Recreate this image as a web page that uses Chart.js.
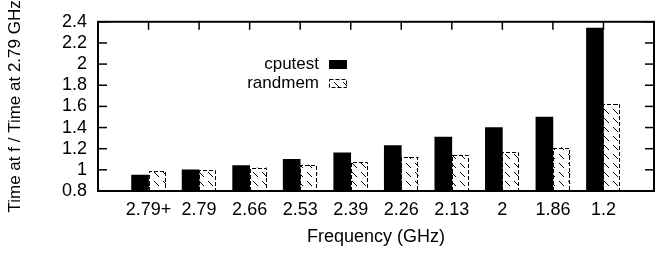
<!DOCTYPE html>
<html>
<head>
<meta charset="utf-8">
<script src="https://cdn.jsdelivr.net/npm/chart.js@4/dist/chart.umd.min.js"></script>
<style>
  body { margin: 0; background: #fff; }
  canvas { display: block; }
</style>
</head>
<body>
<canvas id="freqChart" width="667" height="253"></canvas>
<script>
const categories = ['2.79+', '2.79', '2.66', '2.53', '2.39', '2.26', '2.13', '2', '1.86', '1.2'];
const cputest = [0.95, 1.00, 1.04, 1.10, 1.16, 1.23, 1.31, 1.40, 1.50, 2.34];
const randmem = [0.99, 1.00, 1.02, 1.045, 1.07, 1.12, 1.14, 1.17, 1.21, 1.62];
const yTicks = [0.8, 1.0, 1.2, 1.4, 1.6, 1.8, 2.0, 2.2, 2.4];

const FONT = 'Liberation Sans, Arial, Helvetica, sans-serif';

// diagonal hatch used for randmem
function makeHatch() {
    const c = document.createElement('canvas');
    c.width = 9; c.height = 9;
    const g = c.getContext('2d');
    g.fillStyle = '#fff';
    g.fillRect(0, 0, 9, 9);
    g.strokeStyle = '#000';
    g.lineWidth = 1;
    g.beginPath();
    g.moveTo(1, 1);
    g.lineTo(6, 6);
    g.stroke();
    return g.createPattern(c, 'repeat');
}
const hatch = makeHatch();

// gnuplot-like frame: inward ticks, full border, dashed outlines, legend
const framePlugin = {
    id: 'frame',
    afterDatasetsDraw(chart) {
        const { ctx, chartArea: a, scales: { x, y } } = chart;
        ctx.save();
        ctx.strokeStyle = '#000';

        // dashed outline round the hatched bars
        ctx.lineWidth = 1;
        ctx.setLineDash([4, 2]);
        const vals = chart.data.datasets[1].data;
        chart.getDatasetMeta(1).data.forEach((bar, i) => {
            if (vals[i] == null) return;
            const l = Math.round(bar.x - bar.width / 2) + 0.5;
            const r = Math.round(bar.x + bar.width / 2) - 0.5;
            const t = Math.round(bar.y) + 0.5;
            const b = Math.min(bar.base, a.bottom);
            ctx.beginPath();
            ctx.moveTo(l, b);
            ctx.lineTo(l, t);
            ctx.lineTo(r, t);
            ctx.lineTo(r, b);
            ctx.stroke();
        });
        ctx.setLineDash([]);

        const line = (x1, y1, x2, y2) => {
            ctx.beginPath(); ctx.moveTo(x1, y1); ctx.lineTo(x2, y2); ctx.stroke();
        };
        ctx.lineWidth = 1.5;
        yTicks.forEach(v => {
            const py = y.getPixelForValue(v);
            line(a.left, py, a.left + 9, py);
            line(a.right, py, a.right - 9, py);
        });
        categories.forEach((c, i) => {
            const px = x.getPixelForValue(i + 1);
            line(px, a.top, px, a.top + 8);
        });
        ctx.lineWidth = 2;
        ctx.strokeRect(a.left, a.top, a.right - a.left, a.bottom - a.top);

        // legend
        ctx.font = '17px ' + FONT;
        ctx.fillStyle = '#000';
        ctx.textAlign = 'right';
        ctx.textBaseline = 'middle';
        ctx.fillText('cputest', 319, 64);
        ctx.fillText('randmem', 319, 83);
        ctx.fillRect(329, 60, 18, 9);
        ctx.fillStyle = hatch;
        ctx.fillRect(329, 79, 18, 9);
        ctx.lineWidth = 1;
        ctx.setLineDash([4, 2]);
        ctx.strokeRect(329.5, 79.5, 17, 8);
        ctx.restore();
    }
};

const ctx = document.getElementById('freqChart').getContext('2d');
new Chart(ctx, {
    type: 'bar',
    data: {
        labels: ['', ...categories, ''],
        datasets: [{
            label: 'cputest',
            data: [null, ...cputest, null],
            backgroundColor: '#000',
            borderWidth: 0,
            barThickness: 17
        }, {
            label: 'randmem',
            data: [null, ...randmem, null],
            backgroundColor: hatch,
            borderWidth: 0,
            barThickness: 17
        }]
    },
    options: {
        responsive: false,
        animation: false,
        layout: { padding: { top: 9, right: 13, left: 0, bottom: 0 } },
        plugins: {
            legend: { display: false },
            tooltip: { enabled: false }
        },
        scales: {
            x: {
                offset: false,
                grid: { display: false, drawTicks: false },
                border: { display: false },
                ticks: {
                    color: '#000',
                    font: { family: FONT, size: 18 },
                    padding: 8,
                    maxRotation: 0,
                    autoSkip: false
                },
                title: {
                    display: true,
                    text: 'Frequency (GHz)',
                    color: '#000',
                    font: { family: FONT, size: 18 },
                    padding: { top: 0, bottom: 5 }
                },
                afterFit: s => { s.height = 62; }
            },
            y: {
                min: 0.8,
                max: 2.4,
                grid: { display: false, drawTicks: false },
                border: { display: false },
                afterBuildTicks: s => { s.ticks = yTicks.map(v => ({ value: v })); },
                ticks: {
                    color: '#000',
                    font: { family: FONT, size: 18 },
                    padding: 11,
                    autoSkip: false,
                    callback: v => String(Math.round(v * 10) / 10)
                },
                title: {
                    display: true,
                    text: 'Time at f / Time at 2.79 GHz',
                    color: '#000',
                    font: { family: FONT, size: 17 },
                    padding: { top: 5, bottom: 0 }
                },
                afterFit: s => { s.width = 98; }
            }
        }
    },
    plugins: [framePlugin]
});
</script>
</body>
</html>
